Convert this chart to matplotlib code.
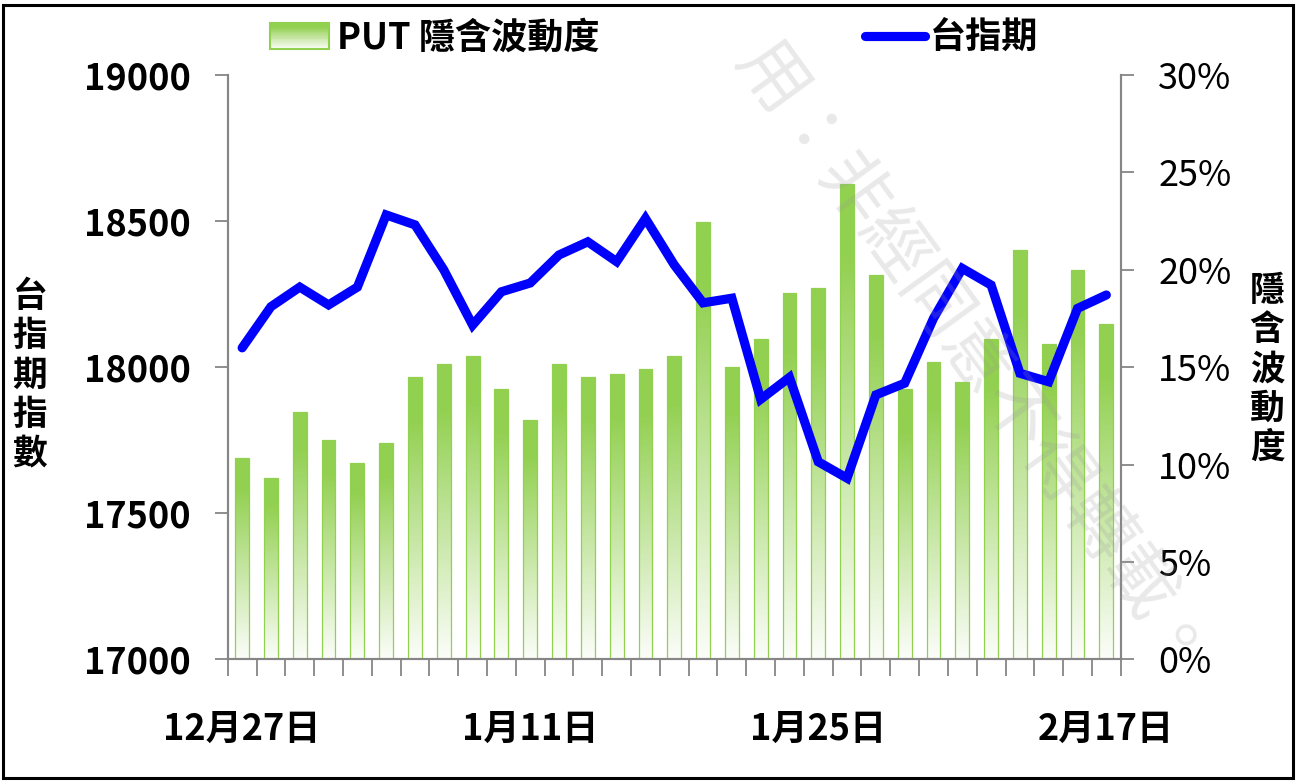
import numpy as np
import matplotlib
matplotlib.use('Agg')
import matplotlib.pyplot as plt
from matplotlib.patches import Rectangle
from matplotlib.lines import Line2D
from matplotlib.legend_handler import HandlerBase

plt.rcParams['font.family'] = ['Noto Sans CJK TC', 'DejaVu Sans']

# trading days (only every 10th is labelled)
dates = ['12月27日', '12月28日', '12月29日', '12月30日', '1月3日', '1月4日', '1月5日',
         '1月6日', '1月7日', '1月10日', '1月11日', '1月12日', '1月13日', '1月14日',
         '1月17日', '1月18日', '1月19日', '1月20日', '1月21日', '1月24日', '1月25日',
         '1月26日', '2月7日', '2月8日', '2月9日', '2月10日', '2月11日', '2月14日',
         '2月15日', '2月16日', '2月17日']

# PUT implied volatility (%)
put_iv = [10.35, 9.31, 12.70, 11.26, 10.08, 11.12, 14.51, 15.16, 15.56, 13.86, 12.30,
          15.16, 14.51, 14.65, 14.90, 15.56, 22.47, 15.02, 16.46, 18.82, 19.08, 24.42,
          19.72, 13.86, 15.28, 14.25, 16.46, 21.03, 16.20, 19.99, 17.23]

# TAIEX futures
taiex_fut = [18066, 18207, 18274, 18213, 18274, 18521, 18487, 18333, 18144, 18258, 18288,
             18384, 18429, 18361, 18509, 18350, 18220, 18236, 17890, 17965, 17676, 17620,
             17905, 17945, 18167, 18338, 18281, 17979, 17950, 18201, 18247]

GREEN = np.array([146, 208, 80]) / 255
WHITE = np.array([252, 253, 250]) / 255
GRAY = '#868686'


def grad_colors(n):
    # top -> bottom: solid green, then fading to white
    t = np.linspace(0, 1, n)
    w = np.clip((t - 0.15) / 0.85, 0, 1)
    return GREEN[None, :] * (1 - w[:, None]) + WHITE[None, :] * w[:, None]


fig = plt.figure(figsize=(12.97, 7.81), dpi=100)
ax_l = fig.add_axes([0.1756, 0.1558, 0.8641 - 0.1756, 0.904 - 0.1558])
ax_r = ax_l.twinx()
ax_l.set_zorder(2)
ax_r.set_zorder(1)
ax_l.patch.set_visible(False)

x = np.arange(len(dates))

# bars with vertical gradient fill
bars = ax_r.bar(x, put_iv, width=0.48, facecolor='none', edgecolor=GREEN, linewidth=0.9, zorder=3)
grad = grad_colors(256)[:, None, :]
for b in bars:
    x0, w, h = b.get_x(), b.get_width(), b.get_height()
    im = ax_r.imshow(grad, extent=[x0, x0 + w, 0, h], aspect='auto', origin='upper',
                     zorder=2, interpolation='bilinear')
    im.set_clip_path(b)

ax_r.set_ylim(0, 30)
ax_r.set_xlim(-0.5, len(dates) - 0.5)
ax_r.set_yticks(np.arange(0, 31, 5))
ax_r.set_yticklabels([f'{v}%' for v in range(0, 31, 5)], fontsize=26)

ax_l.plot(x, taiex_fut, color='#0000FF', linewidth=6.6, solid_joinstyle='miter',
          solid_capstyle='round', zorder=5)
ax_l.set_ylim(17000, 19000)
ax_l.set_xlim(-0.5, len(dates) - 0.5)
ax_l.set_yticks(np.arange(17000, 19001, 500))
ax_l.set_yticklabels([str(v) for v in range(17000, 19001, 500)], fontsize=26, fontweight='bold')

ax_l.set_xticks(x[::10])
ax_l.set_xticklabels(dates[::10], fontsize=26, fontweight='bold')
ax_l.set_xticks(np.arange(-0.5, len(dates), 1), minor=True)
ax_l.tick_params(axis='x', which='major', length=0, pad=37)
ax_l.tick_params(axis='x', which='minor', length=12.5, width=1.3, color=GRAY)
ax_l.tick_params(axis='y', length=9.5, width=1.3, color=GRAY, pad=17)
ax_r.tick_params(axis='y', length=9, width=1.3, color=GRAY, pad=18)
ax_r.tick_params(axis='x', which='both', length=0, labelbottom=False)

for a in (ax_l, ax_r):
    a.spines['top'].set_visible(False)
    for s in ('left', 'right', 'bottom'):
        a.spines[s].set_color(GRAY)
        a.spines[s].set_linewidth(1.5)

# vertical axis titles
fig.text(0.023, 0.52, '\n'.join('台指期指數'), fontsize=25, fontweight='bold',
         ha='center', va='center', linespacing=1.15)
fig.text(0.977, 0.528, '\n'.join('隱含波動度'), fontsize=25, fontweight='bold',
         ha='center', va='center', linespacing=1.15)


class GradHandler(HandlerBase):
    def create_artists(self, legend, orig_handle, xdescent, ydescent, width, height, fontsize, trans):
        arts = []
        n = 30
        cols = grad_colors(n)[::-1]
        for i in range(n):
            arts.append(Rectangle((-xdescent, -ydescent + height * i / n), width, height / n + 0.3,
                                  facecolor=cols[i], edgecolor='none', transform=trans))
        arts.append(Rectangle((-xdescent, -ydescent), width, height, facecolor='none',
                              edgecolor=GREEN, linewidth=1.5, transform=trans))
        return arts


bar_handle = Rectangle((0, 0), 1, 1)
line_handle = Line2D([], [], color='#0000FF', linewidth=6.6, solid_capstyle='round')
fig.legend([bar_handle], ['PUT 隱含波動度'], handler_map={Rectangle: GradHandler()},
           loc='upper left', bbox_to_anchor=(0.208, 0.975), frameon=False,
           prop={'weight': 'bold', 'size': 26}, handlelength=1.65, handleheight=0.75,
           handletextpad=0.2, borderpad=0, borderaxespad=0)
fig.legend([line_handle], ['台指期'], loc='upper left', bbox_to_anchor=(0.667, 0.975),
           frameon=False, prop={'weight': 'bold', 'size': 26}, handlelength=1.65,
           handletextpad=0.15, borderpad=0, borderaxespad=0)

# watermark
fig.text(0.752, 0.54, '用：非經同意不得轉載。', fontsize=50, color='#999999', alpha=0.22,
         rotation=-54, rotation_mode='anchor', ha='center', va='center', zorder=10)

# outer frame
fig.patches.append(Rectangle((0.002, 0.004), 0.995, 0.989, transform=fig.transFigure,
                             fill=False, edgecolor='black', linewidth=2.2))

fig.savefig('out.png', dpi=100)
